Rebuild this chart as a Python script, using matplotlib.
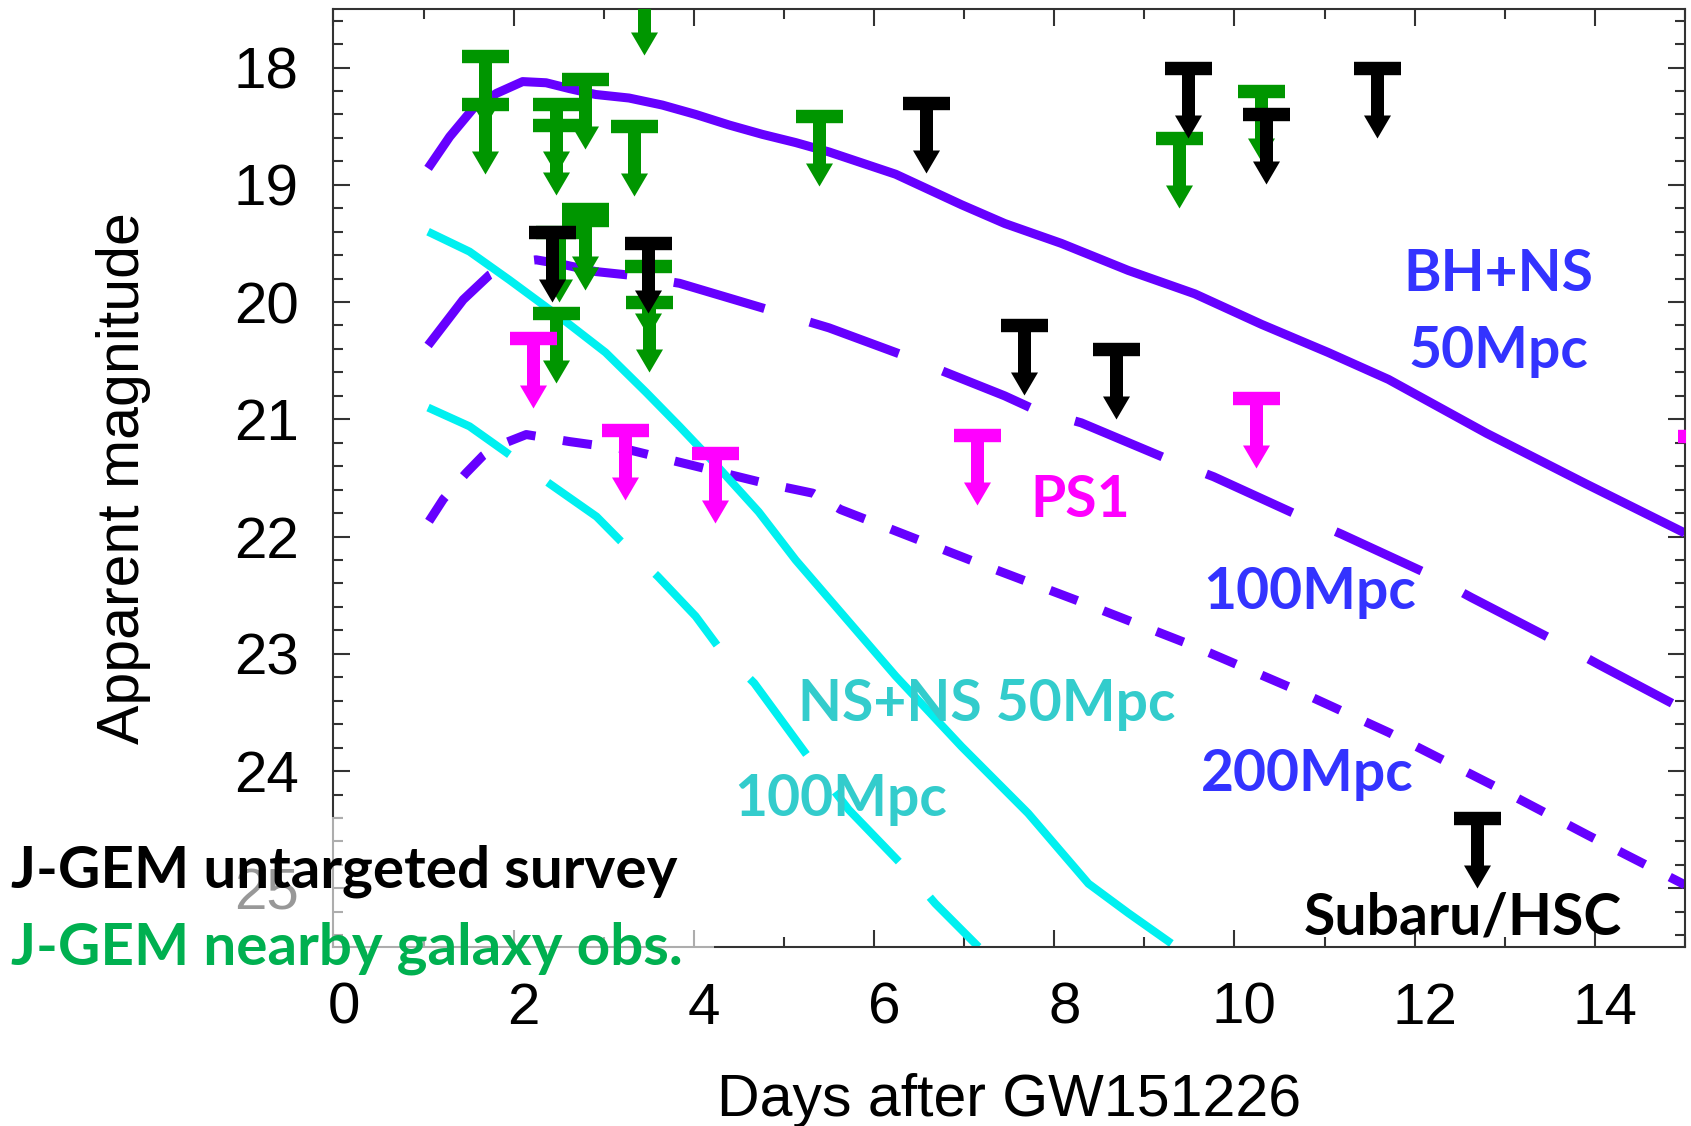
import matplotlib
matplotlib.use("Agg")
import matplotlib.pyplot as plt
from matplotlib.path import Path
from matplotlib.patches import Rectangle
from matplotlib.ticker import MultipleLocator
from matplotlib.transforms import ScaledTranslation

plt.rcParams["font.family"] = ["Liberation Sans", "DejaVu Sans"]
plt.rcParams["lines.scale_dashes"] = False

# model light curves: days after GW151226 vs apparent magnitude
bhns50_x = [1.05, 1.29, 1.55, 1.81, 2.10, 2.36, 2.62, 2.91, 3.28, 3.65, 4.02, 4.39, 4.76,
            5.13, 5.50, 6.24, 6.97, 7.45, 8.08, 8.82, 9.56, 10.30, 11.04, 11.71, 12.80,
            13.90, 15.0]
bhns50_y = [18.86, 18.59, 18.35, 18.22, 18.12, 18.13, 18.18, 18.23, 18.26, 18.32, 18.40,
            18.49, 18.57, 18.64, 18.72, 18.91, 19.17, 19.33, 19.50, 19.73, 19.93, 20.19,
            20.43, 20.66, 21.12, 21.55, 21.97]

bhns100_x = [1.05, 1.44, 1.73, 2.00, 2.25, 2.55, 2.91, 3.28, 3.84, 4.76, 5.50, 6.31, 6.83,
             7.45, 7.79, 8.30, 9.26, 9.77, 10.71, 11.19, 12.15, 12.63, 13.56, 14.04, 15.0]
bhns100_y = [20.37, 19.98, 19.77, 19.66, 19.64, 19.68, 19.74, 19.77, 19.84, 20.05, 20.22,
             20.45, 20.61, 20.80, 20.92, 21.03, 21.34, 21.49, 21.82, 21.98, 22.32, 22.52,
             22.89, 23.09, 23.48]

bhns200_x = [1.06, 1.22, 1.47, 1.66, 1.81, 2.14, 2.62, 3.28, 4.02, 4.76, 5.32, 5.63, 7.10,
             8.27, 9.47, 9.75, 10.63, 11.71, 12.89, 13.93, 15.0]
bhns200_y = [21.87, 21.68, 21.46, 21.31, 21.23, 21.13, 21.19, 21.26, 21.40, 21.54, 21.63,
             21.77, 22.21, 22.55, 22.91, 23.00, 23.29, 23.67, 24.13, 24.55, 24.97]

nsns50_x = [1.05, 1.51, 1.95, 2.55, 3.02, 3.47, 3.84, 4.26, 4.72, 5.13, 5.50, 6.24, 6.97,
            7.71, 8.38, 8.82, 9.30]
nsns50_y = [19.40, 19.57, 19.81, 20.15, 20.43, 20.77, 21.06, 21.40, 21.79, 22.20, 22.53,
            23.19, 23.79, 24.36, 24.96, 25.21, 25.47]

nsns100_x = [1.05, 1.51, 1.95, 2.40, 2.92, 3.19, 3.60, 4.02, 4.28, 4.67, 5.28, 5.72, 6.31,
             6.68, 7.16]
nsns100_y = [20.90, 21.06, 21.30, 21.55, 21.83, 22.04, 22.34, 22.68, 22.95, 23.25, 23.89,
             24.33, 24.80, 25.13, 25.50]

# upper limits
green_x = [1.68, 1.68, 2.79, 2.47, 2.47, 3.34, 3.45, 5.39, 2.79, 2.79, 3.49, 3.50, 2.47,
           2.50, 9.39, 10.30]
green_y = [17.90, 18.31, 18.10, 18.31, 18.49, 18.50, 17.30, 18.41, 19.21, 19.30, 19.69,
           20.00, 20.09, 19.40, 18.60, 18.20]
black_x = [2.43, 3.49, 6.58, 9.48, 10.35, 7.66, 8.69, 11.58, 12.69]
black_y = [19.40, 19.50, 18.30, 18.00, 18.40, 20.20, 20.40, 18.00, 24.40]
pink_x = [2.21, 3.24, 4.24, 7.14, 10.24, 15.18]
pink_y = [20.31, 21.09, 21.29, 21.13, 20.82, 21.14]

purple = "#6600FF"
cyan = "#00F0F0"


def limit_marker():
    # T bar with a downward arrow, origin at the centre of the bar
    v = [(-23.5, 6.7), (23.5, 6.7), (23.5, -6.7), (6.5, -6.7), (6.5, -47), (13.5, -47),
         (0, -70), (-13.5, -47), (-6.5, -47), (-6.5, -6.7), (-23.5, -6.7), (-23.5, 6.7)]
    return Path(v, closed=True)


fig = plt.figure(figsize=(16.91, 11.26), dpi=100)
ax = fig.add_axes([0.1972, 0.1590, 0.7992, 0.8331])

ax.plot(bhns50_x, bhns50_y, color=purple, lw=6.5, solid_capstyle="butt")
ax.plot(bhns100_x, bhns100_y, color=purple, lw=6.5, dashes=(68, 34))
ax.plot(bhns200_x, bhns200_y, color=purple, lw=6.5, dashes=(21, 20))
ax.plot(nsns50_x, nsns50_y, color=cyan, lw=5.8, solid_capstyle="butt")
ax.plot(nsns100_x, nsns100_y, color=cyan, lw=5.8, dashes=(68, 34))

mk = limit_marker()
ms = 140 * 0.72
ax.plot(green_x, green_y, ls="none", marker=mk, ms=ms, mfc="#009600", mec="none", zorder=4)
ax.plot(black_x, black_y, ls="none", marker=mk, ms=ms, mfc="black", mec="none", zorder=5)
ax.plot(pink_x, pink_y, ls="none", marker=mk, ms=ms, mfc="#FF00FF", mec="none", zorder=5)

lab = dict(family=["Lato", "DejaVu Sans"], weight="bold", fontsize=41, ha="center",
           va="baseline", zorder=6)
ax.text(12.93, 19.91, "BH+NS", color="#3333FF", **lab)
ax.text(12.93, 20.56, "50Mpc", color="#3333FF", **lab)
ax.text(10.84, 22.62, "100Mpc", color="#3333FF", **lab)
ax.text(10.81, 24.17, "200Mpc", color="#3333FF", **lab)
ax.text(8.29, 21.83, "PS1", color="#FF00FF", **lab)
ax.text(7.25, 23.57, "NS+NS 50Mpc", color="#33CCCC", **lab)
ax.text(5.63, 24.38, "100Mpc", color="#33CCCC", **lab)
ax.text(12.53, 25.39, "Subaru/HSC", color="black", **lab)

ax.set_xlim(0, 15)
ax.set_ylim(25.5, 17.5)
ax.xaxis.set_major_locator(MultipleLocator(2))
ax.xaxis.set_minor_locator(MultipleLocator(1))
ax.yaxis.set_major_locator(MultipleLocator(1))
ax.yaxis.set_minor_locator(MultipleLocator(0.2))
ax.tick_params(which="both", direction="in", top=True, right=True, color="#333333",
               width=1.5, labelsize=42, pad=25)
ax.tick_params(which="major", length=12)
ax.tick_params(which="minor", length=7)
for s in ax.spines.values():
    s.set_color("#333333")
    s.set_linewidth(1.5)
for t in ax.get_xticklabels():
    t.set_transform(t.get_transform() + ScaledTranslation(0.1, 0, fig.dpi_scale_trans))

ax.set_xlabel("Days after GW151226", fontsize=42.5)
ax.set_ylabel("Apparent magnitude", fontsize=42.5)
ax.xaxis.set_label_coords(0.5, -0.134)
ax.yaxis.set_label_coords(-0.135, 0.5)

# faded box behind the survey legend text
fig.add_artist(Rectangle((0, 0.134), 0.422, 0.140, transform=fig.transFigure,
                         facecolor="white", alpha=0.6, edgecolor="none", zorder=5))
fig.text(0.0064, 0.2118, "J-GEM untargeted survey", color="black", family=["Lato", "DejaVu Sans"],
         weight="bold", fontsize=42, va="baseline", zorder=6)
fig.text(0.0064, 0.1430, "J-GEM nearby galaxy obs.", color="#00B050",
         family=["Lato", "DejaVu Sans"], weight="bold", fontsize=42, va="baseline", zorder=6)

fig.savefig("out.png", dpi=100)
